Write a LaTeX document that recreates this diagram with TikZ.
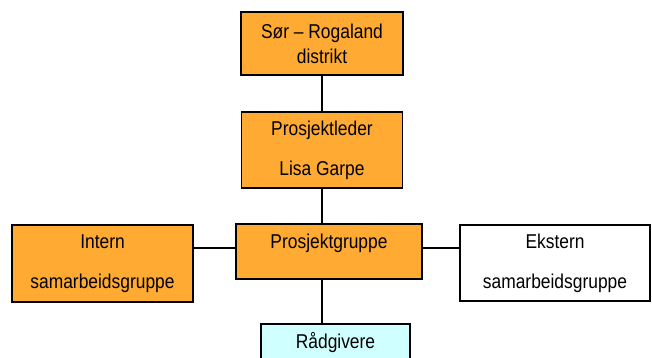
\documentclass[tikz,border=0pt]{standalone}
\usepackage{fontspec}
\setmainfont[FakeStretch=0.87]{Liberation Sans}
\usepackage{tikz}
\definecolor{boxorange}{RGB}{255,170,51}
\definecolor{boxcyan}{RGB}{208,255,255}
\tikzstyle{unit} = [draw=black, line width=1.8pt, font={\fontsize{20}{25}\selectfont}, align=center, inner sep=0pt]
\tikzstyle{internal} = [fill=boxorange]
\tikzstyle{external} = [fill=white]
\tikzstyle{advisor} = [fill=boxcyan]
\tikzstyle{link} = [draw=black, line width=2pt]

\begin{document}
\begin{tikzpicture}[x=1pt,y=1pt]
    \clip (0,0) rectangle (652,358);
    \node[unit,internal,minimum width=162pt,minimum height=63pt](sor) at (322,314.5){Sør – Rogaland\\distrikt};
    \node[unit,internal,minimum width=161pt,minimum height=76pt](leder) at (322,208){Prosjektleder\\[15pt]Lisa Garpe};
    \node[unit,internal,minimum width=186pt,minimum height=55pt,text height=15pt,text depth=20pt](gruppe) at (329,106.5){Prosjektgruppe};
    \node[unit,internal,minimum width=181pt,minimum height=77pt](intern) at (102.5,94.5){Intern\\[15pt]samarbeidsgruppe};
    \node[unit,external,minimum width=190pt,minimum height=76pt](ekstern) at (555,95){Ekstern\\[15pt]samarbeidsgruppe};
    \node[unit,advisor,minimum width=149pt,minimum height=50pt,text height=15pt,text depth=15pt,anchor=north](rad) at (335.5,35){Rådgivere};
    \draw[link](sor.south)--(sor.south|-leder.north);
    \draw[link](leder.south)--(leder.south|-gruppe.north);
    \draw[link,line width=1.2pt](intern.east|-0,110)--(gruppe.west|-0,110);
    \draw[link](gruppe.east|-0,110)--(ekstern.west|-0,110);
    \draw[link](leder.south|-gruppe.south)--(leder.south|-rad.north);
  \end{tikzpicture}
\end{document}
